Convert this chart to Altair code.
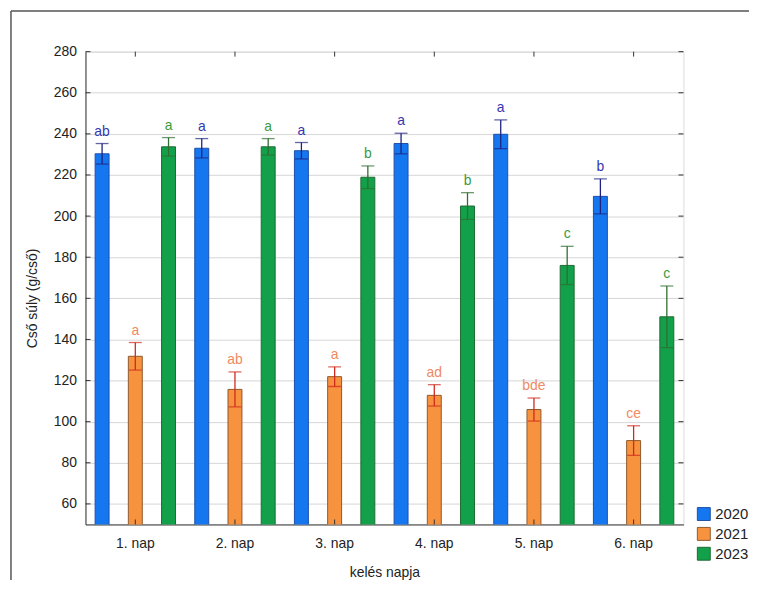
import altair as alt
import pandas as pd

naps = ["1. nap", "2. nap", "3. nap", "4. nap", "5. nap", "6. nap"]
years = ["2020", "2021", "2023"]

mean_2020 = [230.3, 233.0, 231.8, 235.3, 239.8, 209.6]
err_2020 = [5.0, 4.7, 4.0, 5.0, 7.0, 8.5]
lab_2020 = ["ab", "a", "a", "a", "a", "b"]

mean_2021 = [131.8, 115.7, 121.9, 112.8, 105.9, 90.8]
err_2021 = [6.7, 8.5, 4.8, 5.2, 5.6, 7.2]
lab_2021 = ["a", "ab", "a", "ad", "bde", "ce"]

mean_2023 = [233.7, 233.7, 218.9, 204.9, 176.0, 151.0]
err_2023 = [4.5, 4.0, 5.5, 6.5, 9.3, 15.0]
lab_2023 = ["a", "a", "b", "b", "c", "c"]

y_ticks = [60, 80, 100, 120, 140, 160, 180, 200, 220, 240, 260, 280]

fill_colors = ["#1577F0", "#F7923E", "#12A14A"]
stroke_colors = ["#1F4FA8", "#8E5A2E", "#1F6A33"]
err_colors = ["#1E2380", "#D02A1E", "#2E6E2E"]
text_colors = ["#3535B0", "#F08A62", "#3A9A3A"]

rows = []
for y, m, e, l in [("2020", mean_2020, err_2020, lab_2020),
                   ("2021", mean_2021, err_2021, lab_2021),
                   ("2023", mean_2023, err_2023, lab_2023)]:
    for n, mv, ev, lv in zip(naps, m, e, l):
        rows.append({"nap": n, "year": y, "mean": mv, "lo": mv - ev, "hi": mv + ev, "label": lv})
df = pd.DataFrame(rows)

W, H = 602, 476
PL, PT, PR, PB = 78, 42, 66, 56
FONT = "Liberation Sans"

xenc = alt.X("nap:N", sort=naps, scale=alt.Scale(domain=naps, paddingInner=0, paddingOuter=0),
             axis=alt.Axis(title="kelés napja", ticks=False, labelPadding=12, labelAngle=0,
                           labelFontSize=14, titleFontSize=14, titleFontWeight="normal",
                           titlePadding=15, domainColor="#333", labelColor="#222",
                           titleColor="#222", labelFont=FONT, titleFont=FONT, grid=False))
xoff = alt.XOffset("year:N", scale=alt.Scale(domain=years, paddingInner=0.58, paddingOuter=0.29))
yscale = alt.Scale(domain=[50, 280], nice=False, zero=False)

base = alt.Chart(df)
one = pd.DataFrame({"a": [0]})

frame_left = alt.Chart(one).mark_rule(color="#555", strokeWidth=1.5).encode(
    x=alt.value(-75), y=alt.value(-41), y2=alt.value(H + PB))
frame_top = alt.Chart(one).mark_rule(color="#555", strokeWidth=1.5).encode(
    x=alt.value(-75), x2=alt.value(W + PR), y=alt.value(-41))

bars = base.mark_bar(clip=True, strokeWidth=1).encode(
    x=xenc, xOffset=xoff,
    y=alt.Y("mean:Q", scale=yscale,
            axis=alt.Axis(title="Cső súly (g/cső)", values=y_ticks, ticks=False,
                          labelPadding=9, labelFontSize=14, titleFontSize=14,
                          titleFontWeight="normal", titleX=-46, titleY=H / 2 + 10,
                          gridColor="#d6d6d6", domainColor="#333", labelColor="#222",
                          titleColor="#222", labelFont=FONT, titleFont=FONT)),
    color=alt.Color("year:N", scale=alt.Scale(domain=years, range=fill_colors),
                    legend=alt.Legend(title=None, orient="none", legendX=615, legendY=458,
                                      symbolType="square", symbolSize=169,
                                      symbolStrokeColor="#333", symbolStrokeWidth=1,
                                      labelFontSize=15, labelFont=FONT, labelColor="#222",
                                      labelOffset=4, rowPadding=3, symbolOpacity=1)),
    stroke=alt.Stroke("year:N", scale=alt.Scale(domain=years, range=stroke_colors), legend=None),
)

layers = [frame_left, frame_top, bars]
for yr, ec, tc in zip(years, err_colors, text_colors):
    sub = base.transform_filter(alt.datum.year == yr)
    layers.append(sub.mark_rule(color=ec, strokeWidth=1.3).encode(
        x=alt.X("nap:N", sort=naps), xOffset=xoff, y=alt.Y("lo:Q", scale=yscale), y2="hi:Q"))
    layers.append(sub.mark_tick(color=ec, orient="horizontal", size=13, thickness=1.3).encode(
        x=alt.X("nap:N", sort=naps), xOffset=xoff, y=alt.Y("hi:Q", scale=yscale)))
    layers.append(sub.mark_tick(color=ec, orient="horizontal", size=13, thickness=1.3).encode(
        x=alt.X("nap:N", sort=naps), xOffset=xoff, y=alt.Y("lo:Q", scale=yscale)))
    layers.append(sub.mark_text(color=tc, dy=-5, baseline="bottom", fontSize=14, font=FONT).encode(
        x=alt.X("nap:N", sort=naps), xOffset=xoff, y=alt.Y("hi:Q", scale=yscale), text="label:N"))

ytdf = pd.DataFrame({"v": y_ticks})
ntdf = pd.DataFrame({"nap": naps})
layers.append(alt.Chart(ytdf).mark_rule(color="#333").encode(
    y=alt.Y("v:Q", scale=yscale), x=alt.value(0), x2=alt.value(5)))
layers.append(alt.Chart(ytdf).mark_rule(color="#333").encode(
    y=alt.Y("v:Q", scale=yscale), x=alt.value(W - 5), x2=alt.value(W)))
layers.append(alt.Chart(ntdf).mark_rule(color="#333").encode(
    x=alt.X("nap:N", sort=naps), y=alt.value(0), y2=alt.value(5)))
layers.append(alt.Chart(ntdf).mark_rule(color="#333").encode(
    x=alt.X("nap:N", sort=naps), y=alt.value(H - 5), y2=alt.value(H)))

chart = alt.layer(*layers).properties(
    width=W, height=H,
    autosize=alt.AutoSizeParams(type="none"),
    padding={"left": PL, "top": PT, "right": PR, "bottom": PB},
).configure_view(stroke="#333", strokeWidth=1).configure(background="white")

chart.save("out.html", embed_options={"renderer": "svg", "actions": False})
